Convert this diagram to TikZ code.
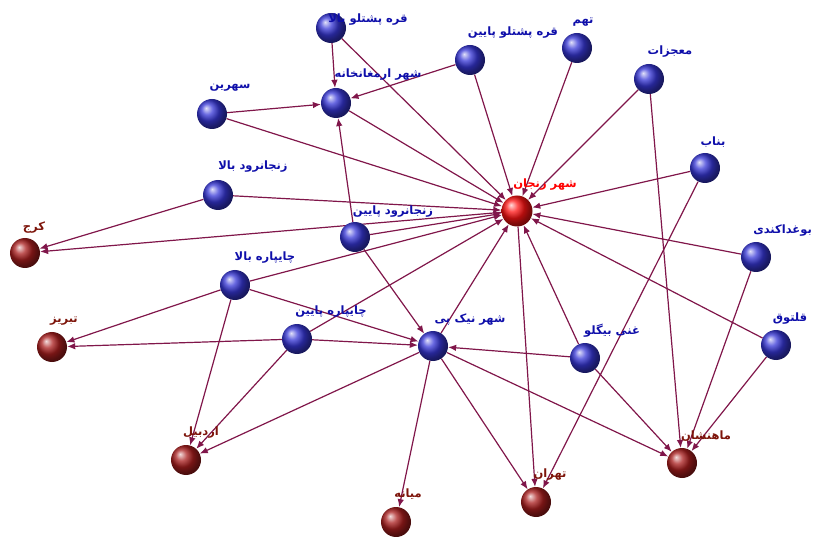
\documentclass[tikz,border=0pt]{standalone}
\usepackage{fontspec}
\newfontfamily\arabicfont[Script=Arabic]{DejaVu Sans}
\TeXXeTstate=1
\usetikzlibrary{arrows.meta}
\pgfdeclarelayer{bg}
\pgfsetlayers{bg,main}
\definecolor{edgec}{RGB}{128,22,74}
\definecolor{bluetxt}{RGB}{15,15,170}
\definecolor{mtxt}{RGB}{125,20,10}
\definecolor{bluball}{RGB}{55,55,215}
\definecolor{mball}{RGB}{170,30,30}
\definecolor{rball}{RGB}{255,20,20}
\newcommand{\artxt}[1]{{\arabicfont\bfseries\beginR #1\endR}}
\tikzset{
  sph/.style={circle, inner sep=0pt, minimum size=30pt},
  bnode/.style={sph, ball color=bluball},
  rnode/.style={sph, minimum size=31pt, ball color=rball},
  mnode/.style={sph, ball color=mball},
  lbl/.style={inner sep=0pt, font=\fontsize{11.5}{13}\selectfont},
  blbl/.style={lbl, text=bluetxt},
  rlbl/.style={lbl, text=red},
  mlbl/.style={lbl, text=mtxt},
  link/.style={draw=edgec, line width=1.2pt, -{Latex[length=8pt,width=6.5pt]}},
}
\begin{document}
\begin{tikzpicture}[x=1pt,y=-1pt]
\useasboundingbox (0,0) rectangle (814,537);
% nodes
\node[bnode] (qpb) at (331,28) {};
\node[bnode] (arm) at (336,103) {};
\node[bnode] (qpp) at (470,60) {};
\node[bnode] (tah) at (577,48) {};
\node[bnode] (moj) at (649,79) {};
\node[bnode] (sah) at (212,114) {};
\node[bnode] (bon) at (705,168) {};
\node[bnode] (zrb) at (218,195) {};
\node[bnode] (zrp) at (355,237) {};
\node[bnode] (bog) at (756,257) {};
\node[bnode] (cpb) at (235,285) {};
\node[bnode] (cpp) at (297,339) {};
\node[bnode] (nik) at (433,346) {};
\node[bnode] (gha) at (585,358) {};
\node[bnode] (qal) at (776,345) {};
\node[rnode] (zan) at (517,211) {};
\node[mnode] (kar) at (25,253) {};
\node[mnode] (tab) at (52,347) {};
\node[mnode] (ard) at (186,460) {};
\node[mnode] (mia) at (396,522) {};
\node[mnode] (teh) at (536,502) {};
\node[mnode] (mah) at (682,463) {};
% labels
\node[blbl] (l-qpb) at (368,20) {\artxt{قره پشتلو بالا}};
\node[blbl] (l-arm) at (378,75) {\artxt{شهر ارمغانخانه}};
\node[blbl] (l-qpp) at (513,33) {\artxt{قره پشتلو پایین}};
\node[blbl] (l-tah) at (583,22) {\artxt{تهم}};
\node[blbl] (l-moj) at (670,52) {\artxt{معجزات}};
\node[blbl] (l-sah) at (230,88) {\artxt{سهرین}};
\node[blbl] (l-bon) at (713,142) {\artxt{بناب}};
\node[blbl] (l-zrb) at (253,167) {\artxt{زنجانرود بالا}};
\node[blbl] (l-zrp) at (393,212) {\artxt{زنجانرود پایین}};
\node[blbl, anchor=east] (l-bog) at (812,231) {\artxt{بوغداکندی}};
\node[blbl] (l-cpb) at (265,258) {\artxt{چایپاره بالا}};
\node[blbl] (l-cpp) at (331,312) {\artxt{چایپاره پایین}};
\node[blbl] (l-nik) at (470,320) {\artxt{شهر نیک پی}};
\node[blbl] (l-gha) at (612,331) {\artxt{غنی بیگلو}};
\node[blbl] (l-qal) at (790,319) {\artxt{قلتوق}};
\node[rlbl] (l-zan) at (545,185) {\artxt{شهر زنجان}};
\node[mlbl] (l-kar) at (34,228) {\artxt{کرج}};
\node[mlbl] (l-tab) at (64,321) {\artxt{تبریز}};
\node[mlbl] (l-ard) at (201,433) {\artxt{اردبیل}};
\node[mlbl] (l-mia) at (408,494) {\artxt{میانه}};
\node[mlbl] (l-teh) at (550,475) {\artxt{تهران}};
\node[mlbl] (l-mah) at (706,436) {\artxt{ماهنشان}};
% edges
\begin{pgfonlayer}{bg}
\draw[link] (qpb) -- (arm);
\draw[link] (qpb) -- (zan);
\draw[link] (qpp) -- (arm);
\draw[link] (qpp) -- (zan);
\draw[link] (tah) -- (zan);
\draw[link] (moj) -- (zan);
\draw[link] (moj) -- (mah);
\draw[link] (sah) -- (arm);
\draw[link] (sah) -- (zan);
\draw[link] (arm) -- (zan);
\draw[link] (bon) -- (zan);
\draw[link] (bon) -- (teh);
\draw[link] (zrb) -- (zan);
\draw[link] (zrb) -- (kar);
\draw[link] (zan) -- (kar);
\draw[link] (zrp) -- (zan);
\draw[link] (zrp) -- (arm);
\draw[link] (zrp) -- (nik);
\draw[link] (bog) -- (zan);
\draw[link] (bog) -- (mah);
\draw[link] (cpb) -- (zan);
\draw[link] (cpb) -- (tab);
\draw[link] (cpb) -- (nik);
\draw[link] (cpb) -- (ard);
\draw[link] (cpp) -- (tab);
\draw[link] (cpp) -- (nik);
\draw[link] (cpp) -- (ard);
\draw[link] (cpp) -- (zan);
\draw[link] (nik) -- (zan);
\draw[link] (nik) -- (ard);
\draw[link] (nik) -- (mia);
\draw[link] (nik) -- (teh);
\draw[link] (nik) -- (mah);
\draw[link] (zan) -- (teh);
\draw[link] (gha) -- (zan);
\draw[link] (gha) -- (nik);
\draw[link] (gha) -- (mah);
\draw[link] (qal) -- (zan);
\draw[link] (qal) -- (mah);
\end{pgfonlayer}
\end{tikzpicture}
\end{document}
